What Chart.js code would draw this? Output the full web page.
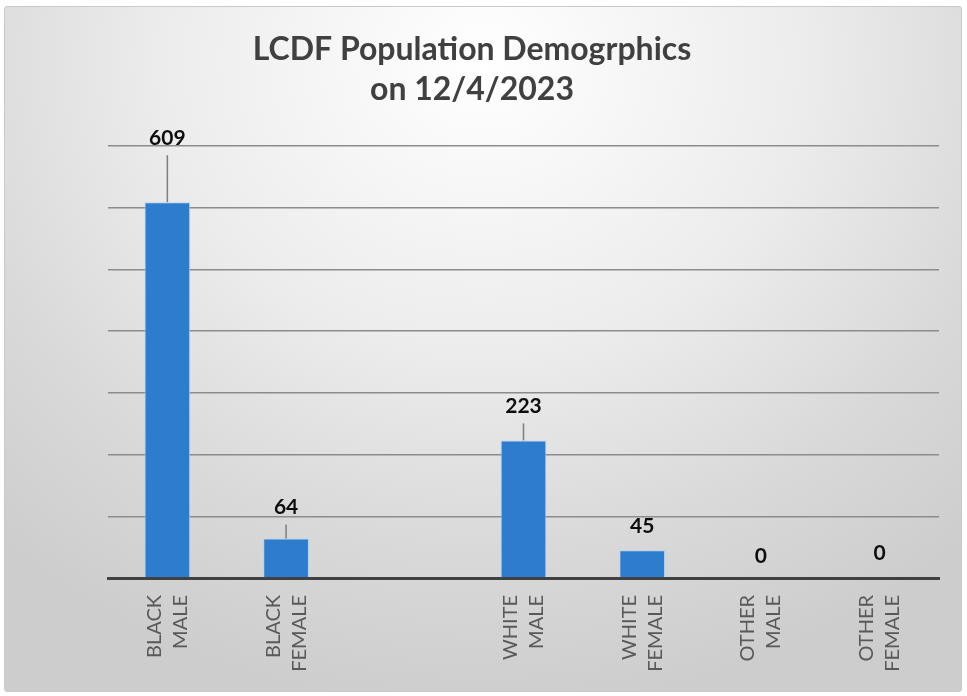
<!DOCTYPE html>
<html>
<head>
<meta charset="utf-8">
<script src="https://cdn.jsdelivr.net/npm/chart.js@4.4.0/dist/chart.umd.min.js"></script>
<style>
  html, body { margin: 0; padding: 0; background: #ffffff; }
  #frame {
    position: absolute; left: 4px; top: 6px; width: 956px; height: 684px;
    border: 1px solid #c9c9c9; border-radius: 3px;
    background: radial-gradient(ellipse 75% 95% at 50% 8%, #ffffff 0%, #ececec 45%, #d9d9d9 75%, #cdcdcd 100%);
  }
  #wrap { position: absolute; left: 0; top: 0; width: 956px; height: 684px; }
</style>
</head>
<body>
<div id="frame"><div id="wrap"><canvas id="popChart"></canvas></div></div>
<script>
// category labels (two lines each, one empty gap slot)
const categories = [
    ['BLACK', 'MALE'],
    ['BLACK', 'FEMALE'],
    '',
    ['WHITE', 'MALE'],
    ['WHITE', 'FEMALE'],
    ['OTHER', 'MALE'],
    ['OTHER', 'FEMALE']
];
const population = [609, 64, null, 223, 45, 0, 0];
const titleLines = ['LCDF Population Demogrphics', 'on 12/4/2023'];
const yMax = 700;
const yStep = 100;

// how far each value label sits above its bar (px), leader line drawn if far
const labelLift = [64, 31, 0, 34, 24, 22, 25];

const valueLabels = {
    id: 'valueLabels',
    afterDatasetsDraw(chart) {
        const ctx = chart.ctx;
        const meta = chart.getDatasetMeta(0);
        ctx.save();
        ctx.font = 'bold 21px Lato';
        ctx.textAlign = 'center';
        ctx.textBaseline = 'middle';
        meta.data.forEach((bar, i) => {
            const v = population[i];
            if (v === null || v === undefined) return;
            const lift = labelLift[i];
            const ly = bar.y - lift;
            if (lift > 30) {
                ctx.strokeStyle = '#7f7f7f';
                ctx.lineWidth = 1.5;
                ctx.beginPath();
                ctx.moveTo(bar.x, ly + 17);
                ctx.lineTo(bar.x, bar.y);
                ctx.stroke();
            }
            ctx.fillStyle = '#0d0d0d';
            ctx.fillText(String(v), bar.x, ly);
        });
        ctx.restore();
    }
};

const ctx = document.getElementById('popChart').getContext('2d');
new Chart(ctx, {
    type: 'bar',
    data: {
        labels: categories,
        datasets: [{
            label: 'Population',
            data: population,
            backgroundColor: '#2e7cce',
            borderColor: 'rgba(170,210,245,0.9)',
            borderWidth: 1,
            barPercentage: 0.385,
            categoryPercentage: 1.0
        }]
    },
    options: {
        responsive: true,
        maintainAspectRatio: false,
        animation: false,
        layout: { padding: { left: 0, right: 22, top: 0, bottom: 0 } },
        plugins: {
            legend: { display: false },
            tooltip: { enabled: false },
            title: {
                display: true,
                text: titleLines,
                color: '#404040',
                font: { family: 'Lato', size: 32, weight: 'bold', lineHeight: 1.25 },
                padding: { top: 23, bottom: 36 }
            }
        },
        scales: {
            x: {
                grid: { display: false },
                border: { color: '#404040', width: 3 },
                ticks: {
                    color: '#595959',
                    font: { family: 'Lato', size: 20, lineHeight: 1.3 },
                    maxRotation: 90,
                    minRotation: 90,
                    autoSkip: false,
                    padding: 9,
                    labelOffset: -13
                },
                afterFit(scale) { scale.height = 113; }
            },
            y: {
                min: 0,
                max: yMax,
                ticks: { display: false, stepSize: yStep },
                border: { display: false },
                grid: {
                    color: c => c.tick.value === 0 ? 'rgba(0,0,0,0)' : '#8c8c8c',
                    lineWidth: 1.5,
                    drawTicks: false
                },
                afterFit(scale) { scale.width = 103; }
            }
        }
    },
    plugins: [valueLabels]
});
</script>
</body>
</html>
